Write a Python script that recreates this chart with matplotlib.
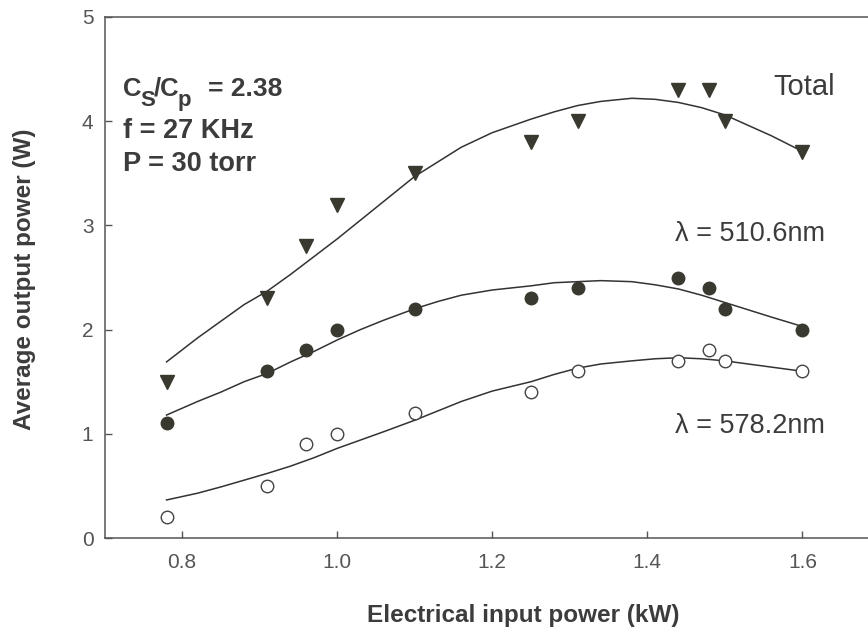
import matplotlib
matplotlib.use("Agg")
import matplotlib.pyplot as plt

plt.rcParams['font.family'] = ['Liberation Sans', 'DejaVu Sans']

# Measured data points
x_pts = [0.78, 0.91, 0.96, 1.00, 1.10, 1.25, 1.31, 1.44, 1.48, 1.50, 1.60]
total = [1.5, 2.3, 2.8, 3.2, 3.5, 3.8, 4.0, 4.3, 4.3, 4.0, 3.7]
green = [1.1, 1.6, 1.8, 2.0, 2.2, 2.3, 2.4, 2.5, 2.4, 2.2, 2.0]   # 510.6 nm
yellow = [0.2, 0.5, 0.9, 1.0, 1.2, 1.4, 1.6, 1.7, 1.8, 1.7, 1.6]  # 578.2 nm

# Fitted curves
fit_x = [0.78, 0.82, 0.85, 0.88, 0.91, 0.94, 0.97, 1.00, 1.03, 1.06, 1.10, 1.13,
         1.16, 1.20, 1.25, 1.28, 1.31, 1.34, 1.38, 1.41, 1.44, 1.47, 1.50, 1.53,
         1.56, 1.60]
fit_total = [1.69, 1.92, 2.08, 2.24, 2.37, 2.53, 2.70, 2.87, 3.05, 3.23, 3.47, 3.61,
             3.75, 3.89, 4.02, 4.09, 4.15, 4.19, 4.22, 4.21, 4.18, 4.13, 4.06, 3.96,
             3.86, 3.71]
fit_green = [1.18, 1.31, 1.40, 1.50, 1.58, 1.69, 1.79, 1.90, 2.00, 2.09, 2.20, 2.27,
             2.33, 2.38, 2.42, 2.45, 2.46, 2.47, 2.46, 2.43, 2.39, 2.33, 2.26, 2.19,
             2.12, 2.03]
fit_yellow = [0.365, 0.43, 0.49, 0.555, 0.62, 0.69, 0.77, 0.86, 0.94, 1.02, 1.13, 1.22,
              1.31, 1.41, 1.50, 1.57, 1.63, 1.67, 1.70, 1.72, 1.73, 1.72, 1.70, 1.67,
              1.64, 1.60]

x_ticks = [0.8, 1.0, 1.2, 1.4, 1.6]
x_tick_labels = ["0.8", "1.0", "1.2", "1.4", "1.6"]
y_ticks = [0, 1, 2, 3, 4, 5]
y_tick_labels = ["0", "1", "2", "3", "4", "5"]

W, H = 868, 633
fig = plt.figure(figsize=(W / 100, H / 100), dpi=100)
ax = fig.add_axes([104.5 / W, 95 / H, 775.5 / W, 521 / H])

line_c = '#333333'
mk_c = '#3a392f'
txt_c = '#3c3c3c'
tick_c = '#555555'

ax.plot(fit_x, fit_total, color=line_c, lw=1.1, zorder=2)
ax.plot(fit_x, fit_green, color=line_c, lw=1.1, zorder=2)
ax.plot(fit_x, fit_yellow, color=line_c, lw=1.1, zorder=2)

ax.plot(x_pts, total, linestyle='none', marker='v', ms=9.5, color=mk_c, zorder=3)
ax.plot(x_pts, green, linestyle='none', marker='o', ms=9, mfc=mk_c, mec=mk_c, zorder=3)
ax.plot(x_pts, yellow, linestyle='none', marker='o', ms=9, mfc='white', mec='#444444', mew=1.0, zorder=3)

ax.set_xlim(0.7, 1.7)
ax.set_ylim(0, 5)
ax.set_xticks(x_ticks)
ax.set_xticklabels(x_tick_labels)
ax.set_yticks(y_ticks)
ax.set_yticklabels(y_tick_labels)

for s in ax.spines.values():
    s.set_color(tick_c)
    s.set_linewidth(1.1)

ax.tick_params(axis='both', direction='in', length=5, width=1, color=tick_c,
               labelcolor=tick_c, labelsize=15)
ax.tick_params(axis='x', pad=11)
ax.tick_params(axis='y', pad=8)

ax.set_xlabel("Electrical input power (kW)", fontsize=17.5, fontweight='bold', color=txt_c)
ax.xaxis.set_label_coords((523 - 104.5) / 775.5, (538 - 604) / 521)
ax.set_ylabel("Average output power (W)", fontsize=17.5, fontweight='bold', color=txt_c, va='center')
ax.yaxis.set_label_coords((25 - 104.5) / 775.5, (538 - 279.5) / 521)

# Parameter block (first line built from pieces to get the large subscripts)
anchor = (0.724, 4.243)
piece_kw = dict(xycoords='data', textcoords='offset points', fontweight='bold',
                color=txt_c, ha='left', va='baseline')
ax.annotate("C", anchor, xytext=(0, 0), fontsize=18.5, **piece_kw)
ax.annotate("S", anchor, xytext=(12.2, -7.2), fontsize=16, **piece_kw)
ax.annotate("/C", anchor, xytext=(21.8, 0), fontsize=18.5, **piece_kw)
ax.annotate("p", anchor, xytext=(39.2, -7.2), fontsize=16, **piece_kw)
ax.annotate("= 2.38", anchor, xytext=(61.0, 0), fontsize=19, **piece_kw)

bold_kw = dict(fontsize=19.5, fontweight='bold', color=txt_c, ha='left', va='baseline')
ax.text(0.724, 3.84, "f = 27 KHz", **bold_kw)
ax.text(0.724, 3.52, "P = 30 torr", **bold_kw)

norm_kw = dict(fontsize=19.5, color=txt_c, ha='left', va='baseline')
ax.text(1.563, 4.25, "Total", fontsize=21, color=txt_c, ha='left', va='baseline')
ax.text(1.436, 2.85, "λ = 510.6nm", **norm_kw)
ax.text(1.436, 1.01, "λ = 578.2nm", **norm_kw)

fig.savefig("out.png", dpi=100)
